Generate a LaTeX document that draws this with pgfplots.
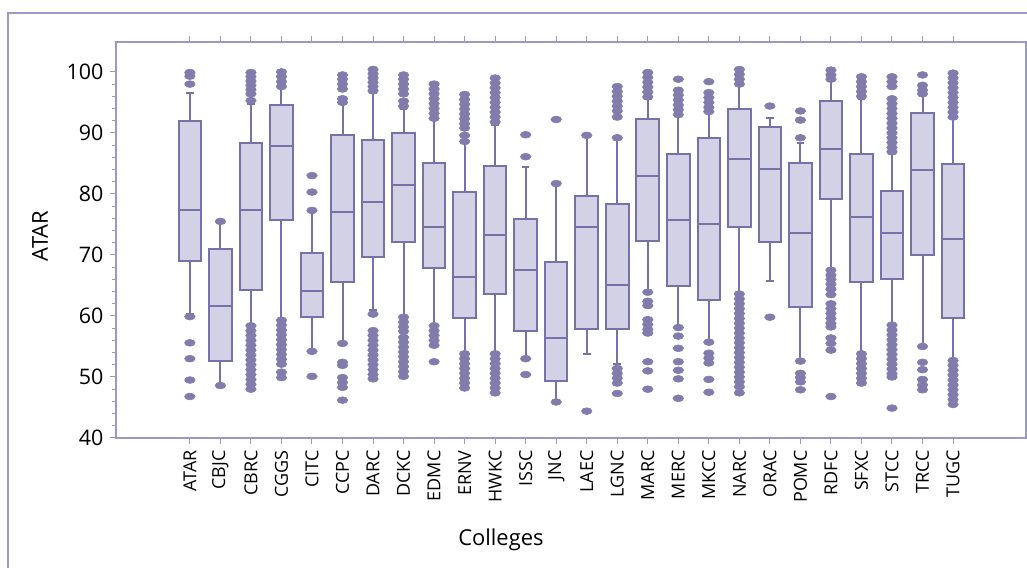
\documentclass[border=0pt]{standalone}
\usepackage{fontspec}
\setmainfont{Open Sans}
\usepackage{pgfplots}
\pgfplotsset{compat=1.18}
\usepgfplotslibrary{statistics}

\definecolor{boxline}{HTML}{7672A8}
\definecolor{boxfill}{HTML}{D3D1E5}
\definecolor{dotc}{HTML}{827CAC}
\definecolor{framec}{HTML}{9D99C5}

\pgfplotsset{
  bx/.style={
    boxplot prepared,
    draw=boxline, fill=boxfill, line width=2bp,
    mark=*, mark size=3.4bp,
    mark options={draw=dotc, fill=dotc, line width=0.6bp, xscale=1.55},
  },
  boxplot/every box/.style={draw=boxline, fill=boxfill, line width=2bp},
  boxplot/every whisker/.style={draw=boxline, line width=2bp},
  boxplot/every median/.style={draw=boxline, line width=2bp},
}

\begin{document}
\begin{tikzpicture}
\path[use as bounding box] (0,0) rectangle (1027bp,568bp);
\draw[framec, line width=1.6bp] (8bp,0) -- (8bp,555bp) -- (1027bp,555bp);

\begin{axis}[
  at={(116bp,130bp)}, anchor=south west,
  width=910bp, height=396bp, scale only axis,
  xmin=-2.42, xmax=27.39, ymin=40, ymax=104.9,
  axis line style={draw=framec, line width=1.2bp},
  every tick/.style={draw=framec, line width=1bp},
  tick align=outside,
  major tick length=6bp, minor tick length=3.5bp,
  xtick={0,...,25},
  xticklabels={ATAR,CBJC,CBRC,CGGS,CITC,CCPC,DARC,DCKC,EDMC,ERNV,HWKC,ISSC,JNC,LAEC,LGNC,MARC,MERC,MKCC,NARC,ORAC,POMC,RDFC,SFXC,STCC,TRCC,TUGC},
  xtick pos=both, ytick pos=left,
  ytick={40,50,...,100}, minor y tick num=4,
  x tick label style={rotate=90, anchor=east, font=\fontsize{18}{20}\selectfont},
  y tick label style={font=\fontsize{21.5}{24}\selectfont},
  xticklabel shift=3bp, yticklabel shift=3bp,
  /pgf/number format/assume math mode=true,
  xlabel={Colleges}, ylabel={ATAR},
  label style={font=\fontsize{22}{26}\selectfont},
  xlabel style={at={(axis description cs:0.423,-0.258)}, anchor=center},
  ylabel style={at={(axis description cs:-0.0835,0.51)}, anchor=center},
  boxplot/draw direction=y,
  boxplot/box extend=0.74,
  boxplot/whisker extend=0.25,
  clip=false,
]
% ATAR
\addplot[bx, boxplot prepared={draw position=0, lower whisker=60.4, lower quartile=69.0, median=77.4, upper quartile=91.9, upper whisker=96.6}]
  coordinates {(0,99.9)(0,99.3)(0,98.0)(0,59.9)(0,55.6)(0,53.0)(0,49.5)(0,46.8)};
% CBJC
\addplot[bx, boxplot prepared={draw position=1, lower whisker=48.4, lower quartile=52.6, median=61.6, upper quartile=70.9, upper whisker=75.2}]
  coordinates {(1,75.5)(1,48.6)};
% CBRC
\addplot[bx, boxplot prepared={draw position=2, lower whisker=58.5, lower quartile=64.3, median=77.4, upper quartile=88.3, upper whisker=94.8}]
  coordinates {(2,99.9)(2,99.2)(2,98.5)(2,97.8)(2,97.1)(2,96.4)(2,95.3)
  (2,58.4)(2,57.6)(2,56.8)(2,56.0)(2,55.2)(2,54.4)(2,53.6)(2,52.8)(2,52.0)(2,51.2)(2,50.4)(2,49.6)(2,48.8)(2,48.0)};
% CGGS
\addplot[bx, boxplot prepared={draw position=3, lower whisker=59.3, lower quartile=75.7, median=87.8, upper quartile=94.5, upper whisker=97.3}]
  coordinates {(3,100.0)(3,99.2)(3,98.4)(3,97.6)
  (3,59.3)(3,58.5)(3,57.7)(3,56.9)(3,56.1)(3,55.3)(3,54.5)(3,53.7)(3,52.9)(3,52.1)(3,50.8)(3,49.9)};
% CITC
\addplot[bx, boxplot prepared={draw position=4, lower whisker=54.1, lower quartile=59.8, median=64.1, upper quartile=70.4, upper whisker=77.2}]
  coordinates {(4,83.0)(4,80.3)(4,77.3)(4,54.2)(4,50.1)};
% CCPC
\addplot[bx, boxplot prepared={draw position=5, lower whisker=55.5, lower quartile=65.6, median=77.0, upper quartile=89.6, upper whisker=94.8}]
  coordinates {(5,99.5)(5,98.8)(5,98.0)(5,97.2)(5,95.6)(5,95.0)
  (5,55.5)(5,52.4)(5,51.9)(5,49.9)(5,49.1)(5,48.3)(5,46.2)};
% DARC
\addplot[bx, boxplot prepared={draw position=6, lower whisker=60.9, lower quartile=69.7, median=78.6, upper quartile=88.9, upper whisker=96.5}]
  coordinates {(6,100.4)(6,99.7)(6,99.0)(6,98.3)(6,97.6)(6,96.9)
  (6,60.3)(6,57.6)(6,56.8)(6,56.0)(6,55.2)(6,54.4)(6,53.6)(6,52.8)(6,52.0)(6,51.2)(6,50.4)(6,49.7)};
% DCKC
\addplot[bx, boxplot prepared={draw position=7, lower whisker=59.8, lower quartile=72.2, median=81.4, upper quartile=90.0, upper whisker=94.0}]
  coordinates {(7,99.5)(7,98.8)(7,98.0)(7,97.2)(7,96.4)(7,95.2)(7,94.4)
  (7,59.8)(7,59.0)(7,58.2)(7,57.5)(7,56.5)(7,55.7)(7,54.9)(7,54.1)(7,53.3)(7,52.5)(7,51.7)(7,50.9)(7,50.1)};
% EDMC
\addplot[bx, boxplot prepared={draw position=8, lower whisker=58.5, lower quartile=67.8, median=74.6, upper quartile=85.0, upper whisker=92.1}]
  coordinates {(8,98.0)(8,97.2)(8,96.4)(8,95.6)(8,94.8)(8,94.0)(8,93.2)(8,92.4)
  (8,58.4)(8,57.6)(8,56.8)(8,56.0)(8,55.2)(8,52.5)};
% ERNV
\addplot[bx, boxplot prepared={draw position=9, lower whisker=53.8, lower quartile=59.7, median=66.4, upper quartile=80.3, upper whisker=88.3}]
  coordinates {(9,96.3)(9,95.5)(9,94.7)(9,93.9)(9,93.1)(9,92.3)(9,91.5)(9,90.8)(9,89.6)(9,88.6)
  (9,53.8)(9,53.0)(9,52.2)(9,51.4)(9,50.6)(9,49.8)(9,49.0)(9,48.2)};
% HWKC
\addplot[bx, boxplot prepared={draw position=10, lower whisker=53.8, lower quartile=63.6, median=73.2, upper quartile=84.6, upper whisker=91.3}]
  coordinates {(10,99.0)(10,98.2)(10,97.4)(10,96.6)(10,95.8)(10,95.0)(10,94.2)(10,93.4)(10,92.6)(10,91.8)
  (10,53.8)(10,53.0)(10,52.2)(10,51.4)(10,50.6)(10,49.8)(10,49.0)(10,48.2)(10,47.4)};
% ISSC
\addplot[bx, boxplot prepared={draw position=11, lower whisker=53.0, lower quartile=57.5, median=67.6, upper quartile=75.9, upper whisker=84.4}]
  coordinates {(11,89.7)(11,86.1)(11,53.0)(11,50.4)};
% JNC
\addplot[bx, boxplot prepared={draw position=12, lower whisker=45.9, lower quartile=49.3, median=56.4, upper quartile=68.8, upper whisker=81.6}]
  coordinates {(12,92.2)(12,81.7)(12,45.9)};
% LAEC
\addplot[bx, boxplot prepared={draw position=13, lower whisker=53.8, lower quartile=57.8, median=74.5, upper quartile=79.7, upper whisker=89.5}]
  coordinates {(13,89.6)(13,44.4)};
% LGNC
\addplot[bx, boxplot prepared={draw position=14, lower whisker=52.2, lower quartile=57.8, median=65.0, upper quartile=78.3, upper whisker=89.1}]
  coordinates {(14,97.6)(14,96.8)(14,96.0)(14,95.2)(14,94.4)(14,93.6)(14,92.6)(14,89.2)
  (14,51.4)(14,50.6)(14,49.8)(14,49.0)(14,47.3)};
% MARC
\addplot[bx, boxplot prepared={draw position=15, lower whisker=63.9, lower quartile=72.3, median=82.9, upper quartile=92.3, upper whisker=95.6}]
  coordinates {(15,99.9)(15,99.1)(15,98.3)(15,97.5)(15,96.7)(15,95.9)
  (15,63.9)(15,62.4)(15,61.7)(15,59.4)(15,58.6)(15,57.8)(15,57.2)(15,52.5)(15,51.0)(15,48.0)};
% MERC
\addplot[bx, boxplot prepared={draw position=16, lower whisker=58.1, lower quartile=64.9, median=75.7, upper quartile=86.6, upper whisker=92.9}]
  coordinates {(16,98.8)(16,97.0)(16,96.2)(16,95.4)(16,94.6)(16,93.8)(16,93.0)
  (16,58.1)(16,56.7)(16,54.7)(16,52.5)(16,51.1)(16,49.7)(16,46.5)};
% MKCC
\addplot[bx, boxplot prepared={draw position=17, lower whisker=55.7, lower quartile=62.6, median=75.0, upper quartile=89.2, upper whisker=93.4}]
  coordinates {(17,98.4)(17,96.6)(17,95.8)(17,95.0)(17,94.2)(17,93.5)
  (17,55.7)(17,53.9)(17,53.1)(17,52.3)(17,49.6)(17,47.5)};
% NARC
\addplot[bx, boxplot prepared={draw position=18, lower whisker=63.6, lower quartile=74.5, median=85.8, upper quartile=93.9, upper whisker=97.8}]
  coordinates {(18,100.4)(18,99.6)(18,98.8)(18,98.0)
  (18,63.6)(18,62.8)(18,62.0)(18,61.2)(18,60.4)(18,59.6)(18,58.8)(18,58.0)(18,57.2)(18,56.4)(18,55.6)
  (18,54.8)(18,54.0)(18,53.2)(18,52.4)(18,51.6)(18,50.8)(18,50.0)(18,49.2)(18,48.4)(18,47.4)};
% ORAC
\addplot[bx, boxplot prepared={draw position=19, lower whisker=65.7, lower quartile=72.2, median=84.1, upper quartile=91.0, upper whisker=92.4}]
  coordinates {(19,94.4)(19,59.8)};
% POMC
\addplot[bx, boxplot prepared={draw position=20, lower whisker=52.6, lower quartile=61.5, median=73.6, upper quartile=85.1, upper whisker=88.3}]
  coordinates {(20,93.6)(20,92.1)(20,89.2)(20,52.6)(20,50.6)(20,49.9)(20,49.2)(20,47.9)};
% RDFC
\addplot[bx, boxplot prepared={draw position=21, lower whisker=67.5, lower quartile=79.1, median=87.3, upper quartile=95.2, upper whisker=98.6}]
  coordinates {(21,100.3)(21,99.5)(21,98.8)
  (21,67.5)(21,66.7)(21,66.0)(21,65.2)(21,64.4)(21,63.5)(21,62.0)(21,61.2)(21,60.4)(21,59.6)(21,58.8)(21,58.2)
  (21,56.4)(21,55.5)(21,54.4)(21,46.8)};
% SFXC
\addplot[bx, boxplot prepared={draw position=22, lower whisker=53.8, lower quartile=65.5, median=76.3, upper quartile=86.5, upper whisker=95.6}]
  coordinates {(22,99.2)(22,98.4)(22,97.6)(22,96.8)(22,96.0)
  (22,53.8)(22,53.0)(22,52.2)(22,51.4)(22,50.6)(22,49.8)(22,49.0)};
% STCC
\addplot[bx, boxplot prepared={draw position=23, lower whisker=58.5, lower quartile=66.0, median=73.6, upper quartile=80.5, upper whisker=86.9}]
  coordinates {(23,99.2)(23,98.4)(23,97.6)(23,95.6)(23,94.8)(23,94.0)(23,93.2)(23,92.4)(23,91.6)(23,90.8)(23,90.0)(23,89.2)(23,88.4)(23,87.6)(23,86.9)
  (23,58.5)(23,57.7)(23,56.9)(23,56.1)(23,55.3)(23,54.5)(23,53.7)(23,52.9)(23,52.1)(23,51.3)(23,50.5)(23,50.0)(23,44.9)};
% TRCC
\addplot[bx, boxplot prepared={draw position=24, lower whisker=54.9, lower quartile=70.0, median=83.9, upper quartile=93.3, upper whisker=96.5}]
  coordinates {(24,99.5)(24,97.8)(24,97.0)(24,96.4)(24,55.0)(24,52.4)(24,51.2)(24,49.6)(24,48.7)(24,47.9)};
% TUGC
\addplot[bx, boxplot prepared={draw position=25, lower whisker=52.7, lower quartile=59.6, median=72.6, upper quartile=84.9, upper whisker=92.4}]
  coordinates {(25,99.8)(25,99.0)(25,98.2)(25,97.4)(25,96.6)(25,95.8)(25,95.0)(25,94.2)(25,93.4)(25,92.6)
  (25,52.7)(25,51.9)(25,51.1)(25,50.3)(25,49.5)(25,48.7)(25,47.9)(25,47.1)(25,46.3)(25,45.5)};
\end{axis}
\end{tikzpicture}
\end{document}
